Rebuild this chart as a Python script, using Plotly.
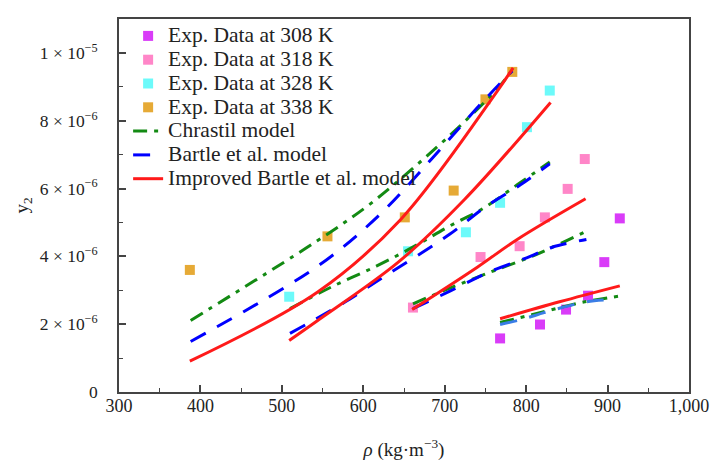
import plotly.graph_objects as go

# ---------- experimental data (rho in kg/m3, y2 mole fraction) ----------
rho_308 = [768, 817, 849, 876, 896, 915]
y2_308 = [1.58e-6, 1.99e-6, 2.43e-6, 2.84e-6, 3.83e-6, 5.12e-6]

rho_318 = [661, 744, 792, 823, 851, 872]
y2_318 = [2.49e-6, 3.98e-6, 4.30e-6, 5.15e-6, 5.99e-6, 6.87e-6]

rho_328 = [509, 655, 726, 768, 801, 829]
y2_328 = [2.81e-6, 4.15e-6, 4.71e-6, 5.58e-6, 7.81e-6, 8.89e-6]

rho_338 = [387, 556, 651, 711, 750, 783]
y2_338 = [3.60e-6, 4.59e-6, 5.15e-6, 5.94e-6, 8.63e-6, 9.44e-6]

# ---------- model curves ----------
# Chrastil model
chr_x_308 = [768, 807, 850, 872, 915]
chr_y_308 = [2.05e-6, 2.28e-6, 2.54e-6, 2.66e-6, 2.83e-6]
chr_x_318 = [661, 704, 750, 807, 835, 874]
chr_y_318 = [2.60e-6, 3.04e-6, 3.48e-6, 4.00e-6, 4.30e-6, 4.74e-6]
chr_x_328 = [510, 561, 616, 663, 705, 749, 789, 829]
chr_y_328 = [2.46e-6, 3.10e-6, 3.71e-6, 4.30e-6, 4.88e-6, 5.44e-6, 6.11e-6, 6.78e-6]
chr_x_338 = [388, 541, 606, 663, 722, 765, 785]
chr_y_338 = [2.11e-6, 4.42e-6, 5.50e-6, 6.64e-6, 7.92e-6, 8.95e-6, 9.56e-6]

# Bartle et al. model
bar_x_308 = [768, 793, 822, 844, 874, 901]
bar_y_308 = [1.99e-6, 2.13e-6, 2.34e-6, 2.49e-6, 2.66e-6, 2.72e-6]
bar_x_318 = [661, 707, 755, 805, 832, 874]
bar_y_318 = [2.46e-6, 2.98e-6, 3.54e-6, 4.00e-6, 4.27e-6, 4.50e-6]
bar_x_328 = [510, 532, 578, 621, 706, 749, 793, 829]
bar_y_328 = [1.73e-6, 2.02e-6, 2.66e-6, 3.33e-6, 4.65e-6, 5.44e-6, 6.11e-6, 6.73e-6]
bar_x_338 = [388, 544, 618, 685, 746, 783]
bar_y_338 = [1.49e-6, 3.71e-6, 5.18e-6, 6.90e-6, 8.54e-6, 9.47e-6]

# Improved Bartle et al. model
imp_x_308 = [768, 841, 915]
imp_y_308 = [2.16e-6, 2.66e-6, 3.13e-6]
imp_x_318 = [660, 740, 789, 873]
imp_y_318 = [2.43e-6, 3.68e-6, 4.50e-6, 5.70e-6]
imp_x_328 = [509, 544, 643, 724, 830]
imp_y_328 = [1.52e-6, 2.11e-6, 3.83e-6, 5.67e-6, 8.54e-6]
imp_x_338 = [387, 544, 646, 765, 784]
imp_y_338 = [0.91e-6, 2.95e-6, 5.09e-6, 8.89e-6, 9.56e-6]

# ---------- ticks ----------
y_tickvals = [0, 2e-6, 4e-6, 6e-6, 8e-6, 1e-5]
y_ticktext = ["0", "2 × 10<sup>−6</sup>", "4 × 10<sup>−6</sup>", "6 × 10<sup>−6</sup>",
              "8 × 10<sup>−6</sup>", "1 × 10<sup>−5</sup>"]

FONT = "Liberation Serif"


def legend_name(txt):
    return '<span style="font-size:21.5px">' + txt + "</span>"


fig = go.Figure()

exp_sets = [
    ("Exp. Data at 308 K", rho_308, y2_308, "#D93CF8"),
    ("Exp. Data at 318 K", rho_318, y2_318, "#FF86C8"),
    ("Exp. Data at 328 K", rho_328, y2_328, "#6CFAFA"),
    ("Exp. Data at 338 K", rho_338, y2_338, "#E6AA36"),
]
for i, (name, xs, ys, col) in enumerate(exp_sets):
    fig.add_trace(go.Scatter(x=xs, y=ys, mode="markers", name=legend_name(name),
                             marker=dict(symbol="square", size=10, color=col),
                             legendrank=i + 1))

green = "#138A13"
blue = "#0000FF"
blue_light = "#3A7DE6"
red = "#FF1A1A"

chr_dash = "14px,7px,4px,7px"
bar_dash = "17px,13px"

chr_sets = [(chr_x_338, chr_y_338), (chr_x_328, chr_y_328), (chr_x_318, chr_y_318), (chr_x_308, chr_y_308)]
for j, (xs, ys) in enumerate(chr_sets):
    fig.add_trace(go.Scatter(x=xs, y=ys, mode="lines", name=legend_name("Chrastil model"),
                             line=dict(color=green, width=3, dash=chr_dash, shape="spline"),
                             legendgroup="chr", showlegend=(j == 0), legendrank=5))

bar_sets = [(bar_x_338, bar_y_338, blue), (bar_x_328, bar_y_328, blue),
            (bar_x_318, bar_y_318, blue), (bar_x_308, bar_y_308, blue_light)]
for j, (xs, ys, col) in enumerate(bar_sets):
    fig.add_trace(go.Scatter(x=xs, y=ys, mode="lines", name=legend_name("Bartle et al. model"),
                             line=dict(color=col, width=3, dash=bar_dash, shape="spline"),
                             legendgroup="bar", showlegend=(j == 0), legendrank=6))

imp_sets = [(imp_x_338, imp_y_338), (imp_x_328, imp_y_328), (imp_x_318, imp_y_318), (imp_x_308, imp_y_308)]
for j, (xs, ys) in enumerate(imp_sets):
    fig.add_trace(go.Scatter(x=xs, y=ys, mode="lines", name=legend_name("Improved Bartle et al. model"),
                             line=dict(color=red, width=3, shape="spline"),
                             legendgroup="imp", showlegend=(j == 0), legendrank=7))

axis_line = "#444444"
# the page body keeps its default 8px margin, so the figure is sized to sit
# inside the 718x466 window with the plot area where the reference has it
fig.update_layout(
    width=710, height=458,
    margin=dict(l=111, r=21, t=9, b=59),
    paper_bgcolor="white", plot_bgcolor="white",
    font=dict(family=FONT, size=18, color="#222222"),
    showlegend=True,
    legend=dict(x=0.016, y=1.0, xanchor="left", yanchor="top",
                bgcolor="rgba(0,0,0,0)", font=dict(family=FONT, size=16, color="#222222"),
                itemwidth=30, tracegroupgap=0, traceorder="normal"),
    xaxis=dict(range=[300, 1000], dtick=100, tick0=300, tickformat=",",
               showgrid=False, zeroline=False, showline=True, linecolor=axis_line,
               linewidth=1.5, mirror=True, ticks="inside", ticklen=7, tickwidth=1.5,
               tickcolor=axis_line, ticklabelstandoff=-3, tickfont=dict(size=18),
               ticklabeloverflow="allow",
               minor=dict(dtick=50, ticks="inside", ticklen=4, tickwidth=1.2, tickcolor=axis_line),
               title=dict(text="<i>ρ</i> (kg·m<sup>−3</sup>)", font=dict(size=19), standoff=27)),
    yaxis=dict(range=[0, 1.1e-5], tickmode="array", tickvals=y_tickvals, ticktext=y_ticktext,
               showgrid=False, zeroline=False, showline=True, linecolor=axis_line,
               linewidth=1.5, mirror=True, ticks="inside", ticklen=7, tickwidth=1.5,
               tickcolor=axis_line, ticklabelstandoff=16, tickfont=dict(size=17.5),
               minor=dict(dtick=1e-6, tick0=0, ticks="inside", ticklen=4, tickwidth=1.2,
                          tickcolor=axis_line),
               title=dict(text="y<sub>2</sub>", font=dict(size=19), standoff=6)),
)

fig.write_html("out.html", config={"displayModeBar": False})
